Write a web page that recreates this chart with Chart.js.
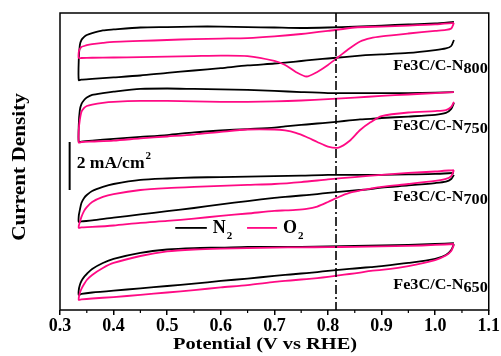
<!DOCTYPE html>
<html lang="en">
<head>
<meta charset="utf-8">
<script src="https://cdn.jsdelivr.net/npm/chart.js@4.4.0/dist/chart.umd.min.js"></script>
<style>
  html, body { margin: 0; padding: 0; background: #fff; }
</style>
</head>
<body>
<canvas id="chart" width="501" height="356"></canvas>
<script>
// potential sweep: upper branch going down, then lower branch going back up (V vs RHE)
const potential = [1.035, 1.0, 0.95, 0.9, 0.85, 0.8, 0.75, 0.7, 0.65, 0.6, 0.55, 0.5, 0.45, 0.4, 0.38, 0.36, 0.35, 0.345, 0.34, 0.337, 0.335,
  0.335, 0.34, 0.36, 0.4, 0.45, 0.5, 0.55, 0.6, 0.65, 0.7, 0.72, 0.74, 0.76, 0.78, 0.8, 0.82, 0.84, 0.86, 0.88, 0.9, 0.95, 1.0, 1.02, 1.03, 1.035];

// current density (mA/cm2), curves offset vertically
const n800_N2 = [12.0, 11.94, 11.9, 11.85, 11.81, 11.77, 11.75, 11.77, 11.79, 11.81, 11.81, 11.79, 11.77, 11.69, 11.65, 11.54, 11.46, 11.38, 11.25, 11.04, 10.42,
  9.58, 9.60, 9.63, 9.69, 9.77, 9.88, 9.98, 10.08, 10.19, 10.27, 10.31, 10.35, 10.40, 10.44, 10.48, 10.52, 10.56, 10.6, 10.63, 10.65, 10.71, 10.83, 10.9, 11.0, 11.25];
const n800_O2 = [11.96, 11.9, 11.85, 11.81, 11.77, 11.63, 11.5, 11.40, 11.33, 11.31, 11.29, 11.25, 11.21, 11.17, 11.13, 11.08, 11.04, 11.0, 10.96, 10.88, 10.75,
  10.5, 10.5, 10.51, 10.52, 10.54, 10.56, 10.58, 10.6, 10.58, 10.38, 10.21, 9.92, 9.73, 9.92, 10.21, 10.55, 10.9, 11.19, 11.33, 11.40, 11.52, 11.63, 11.67, 11.73, 11.96];
const n750_N2 = [9.08, 9.06, 9.04, 9.04, 9.04, 9.04, 9.08, 9.13, 9.17, 9.19, 9.21, 9.23, 9.21, 9.1, 9.04, 8.96, 8.85, 8.75, 8.58, 8.33, 7.71,
  7.0, 7.02, 7.06, 7.13, 7.21, 7.29, 7.40, 7.48, 7.54, 7.60, 7.65, 7.69, 7.73, 7.77, 7.81, 7.85, 7.90, 7.94, 7.96, 8.0, 8.06, 8.13, 8.21, 8.38, 8.63];
const n750_O2 = [9.08, 9.04, 8.98, 8.92, 8.85, 8.79, 8.73, 8.69, 8.67, 8.67, 8.69, 8.71, 8.71, 8.67, 8.63, 8.56, 8.5, 8.42, 8.25, 7.92, 7.5,
  6.98, 7.0, 7.02, 7.06, 7.15, 7.23, 7.31, 7.42, 7.52, 7.52, 7.48, 7.38, 7.21, 7.0, 6.81, 6.77, 7.04, 7.5, 7.83, 8.08, 8.23, 8.29, 8.33, 8.46, 8.67];
const n700_N2 = [5.71, 5.67, 5.65, 5.63, 5.63, 5.63, 5.60, 5.58, 5.56, 5.54, 5.52, 5.48, 5.42, 5.25, 5.13, 4.96, 4.79, 4.67, 4.46, 4.17, 3.92,
  3.67, 3.69, 3.73, 3.85, 3.98, 4.12, 4.25, 4.40, 4.54, 4.67, 4.71, 4.75, 4.79, 4.83, 4.88, 4.92, 4.96, 5.0, 5.04, 5.10, 5.19, 5.29, 5.35, 5.46, 5.63];
const n700_O2 = [5.83, 5.77, 5.71, 5.63, 5.54, 5.44, 5.33, 5.25, 5.21, 5.17, 5.13, 5.08, 5.0, 4.83, 4.71, 4.5, 4.29, 4.13, 3.88, 3.67, 3.5,
  3.42, 3.44, 3.46, 3.52, 3.63, 3.71, 3.81, 3.92, 4.02, 4.13, 4.15, 4.17, 4.21, 4.31, 4.5, 4.71, 4.88, 4.98, 5.06, 5.13, 5.25, 5.38, 5.46, 5.58, 5.83];
const n650_N2 = [2.79, 2.75, 2.71, 2.69, 2.67, 2.65, 2.63, 2.63, 2.63, 2.6, 2.58, 2.52, 2.38, 2.13, 1.96, 1.71, 1.5, 1.38, 1.21, 1.04, 0.83,
  0.63, 0.67, 0.73, 0.81, 0.90, 1.0, 1.10, 1.21, 1.31, 1.42, 1.46, 1.5, 1.54, 1.58, 1.63, 1.67, 1.71, 1.75, 1.79, 1.83, 1.96, 2.13, 2.29, 2.5, 2.75];
const n650_O2 = [2.75, 2.71, 2.67, 2.65, 2.63, 2.62, 2.61, 2.6, 2.58, 2.56, 2.52, 2.44, 2.25, 1.96, 1.75, 1.46, 1.25, 1.08, 0.88, 0.71, 0.5,
  0.42, 0.44, 0.48, 0.54, 0.63, 0.73, 0.83, 0.94, 1.04, 1.17, 1.21, 1.25, 1.29, 1.33, 1.38, 1.44, 1.5, 1.56, 1.63, 1.67, 1.83, 2.08, 2.27, 2.46, 2.71];

const samples = ['800', '750', '700', '650'];
const labelY = [10.17, 7.67, 4.71, 1.04];   // where each sample name sits
const refPotential = 0.815;                 // dash-dot marker
const xTicks = [0.3, 0.4, 0.5, 0.6, 0.7, 0.8, 0.9, 1.0, 1.1];

const N2_COLOR = '#000000';
const O2_COLOR = '#ff0a84';
const FONT = "'Liberation Serif', 'Times New Roman', serif";

function pts(ys) {
  return potential.map((v, i) => ({ x: v, y: ys[i] }));
}

const curves = [
  [n800_N2, n800_O2], [n750_N2, n750_O2], [n700_N2, n700_O2], [n650_N2, n650_O2]
];
const datasets = [];
curves.forEach((c, k) => {
  datasets.push({ label: 'O2 ' + samples[k], data: pts(c[1]), borderColor: O2_COLOR, order: 1 });
  datasets.push({ label: 'N2 ' + samples[k], data: pts(c[0]), borderColor: N2_COLOR, order: 2 });
});

// text a bit wider than the font, like the original figure
function wideText(ctx, text, x, y, sx) {
  ctx.save();
  ctx.translate(x, y);
  ctx.scale(sx, 1);
  ctx.fillText(text, 0, 0);
  ctx.restore();
}

// frame, minor ticks, reference line, axis titles and the annotations
const extras = {
  id: 'extras',
  afterDraw(chart) {
    const ctx = chart.ctx;
    const a = chart.chartArea;
    const xs = chart.scales.x, ys = chart.scales.y;
    ctx.save();

    // dash-dot line
    const rx = xs.getPixelForValue(refPotential);
    ctx.strokeStyle = '#000';
    ctx.lineWidth = 1.6;
    ctx.setLineDash([9, 3, 2, 3]);
    ctx.beginPath();
    ctx.moveTo(rx, a.top);
    ctx.lineTo(rx, a.bottom);
    ctx.stroke();
    ctx.setLineDash([]);

    // box
    ctx.lineWidth = 1.5;
    ctx.strokeRect(a.left, a.top, a.right - a.left, a.bottom - a.top);

    // minor ticks
    ctx.lineWidth = 1.2;
    for (let v = 0.35; v < 1.1; v += 0.1) {
      const px = xs.getPixelForValue(v);
      ctx.beginPath();
      ctx.moveTo(px, a.bottom);
      ctx.lineTo(px, a.bottom + 3);
      ctx.stroke();
    }

    ctx.fillStyle = '#000';
    ctx.textBaseline = 'middle';

    // axis titles
    ctx.font = 'bold 17px ' + FONT;
    ctx.textAlign = 'center';
    wideText(ctx, 'Potential (V vs RHE)', 265, 345, 1.2);
    ctx.save();
    ctx.translate(20, 167);
    ctx.rotate(-Math.PI / 2);
    ctx.font = 'bold 18px ' + FONT;
    wideText(ctx, 'Current Density', 0, 0, 1.18);
    ctx.restore();
    ctx.textAlign = 'left';

    // sample names
    samples.forEach((s, k) => {
      const y = ys.getPixelForValue(labelY[k]);
      ctx.font = 'bold 15px ' + FONT;
      const sx = 1.08;
      const w2 = ctx.measureText(s).width * sx;
      const w1 = ctx.measureText('Fe3C/C-N').width * sx;
      const x2 = a.right - 1 - w2;
      wideText(ctx, 'Fe3C/C-N', x2 - w1, y, sx);
      wideText(ctx, s, x2, y + 3, sx);
    });

    // scale bar 2 mA/cm2
    const bx = xs.getPixelForValue(0.318);
    ctx.lineWidth = 2;
    ctx.beginPath();
    ctx.moveTo(bx, ys.getPixelForValue(7));
    ctx.lineTo(bx, ys.getPixelForValue(5));
    ctx.stroke();
    const by = ys.getPixelForValue(6.1);
    ctx.font = 'bold 16px ' + FONT;
    wideText(ctx, '2 mA/cm', bx + 7, by, 1.1);
    const wt = ctx.measureText('2 mA/cm').width * 1.1;
    ctx.font = 'bold 11px ' + FONT;
    ctx.fillText('2', bx + 8 + wt, by - 7);

    // legend
    const ly = ys.getPixelForValue(3.42);
    const items = [['N', N2_COLOR, 0.515, 0.574], ['O', O2_COLOR, 0.649, 0.705]];
    items.forEach(([t, col, x0, x1]) => {
      const p0 = xs.getPixelForValue(x0), p1 = xs.getPixelForValue(x1);
      ctx.strokeStyle = col;
      ctx.lineWidth = 1.8;
      ctx.beginPath();
      ctx.moveTo(p0, ly);
      ctx.lineTo(p1, ly);
      ctx.stroke();
      ctx.font = 'bold 18px ' + FONT;
      ctx.fillText(t, p1 + 6, ly);
      const tw = ctx.measureText(t).width;
      ctx.font = 'bold 11px ' + FONT;
      ctx.fillText('2', p1 + 7 + tw, ly + 8);
    });
    ctx.restore();
  }
};

new Chart(document.getElementById('chart'), {
  type: 'scatter',
  data: { datasets: datasets },
  options: {
    responsive: false,
    animation: false,
    showLine: true,
    layout: { padding: { top: 13, right: 12, left: 0, bottom: 0 } },
    elements: {
      point: { radius: 0 },
      line: { borderWidth: 1.8, tension: 0.25, fill: false }
    },
    plugins: { legend: { display: false }, tooltip: { enabled: false } },
    scales: {
      x: {
        type: 'linear',
        min: 0.3, max: 1.1,
        afterBuildTicks: s => { s.ticks = xTicks.map(v => ({ value: v })); },
        afterFit: s => { s.height = 46; },
        grid: { drawOnChartArea: false, drawTicks: true, tickLength: 5, color: '#000', lineWidth: 1.5 },
        border: { display: false },
        ticks: {
          padding: 1,
          color: '#000',
          font: { family: FONT, size: 18, weight: 'bold' },
          callback: v => v.toFixed(1)
        }
      },
      y: {
        min: 0, max: 12.375,
        afterFit: s => { s.width = 60; },
        grid: { display: false },
        border: { display: false },
        ticks: { display: false }
      }
    }
  },
  plugins: [extras]
});
</script>
</body>
</html>
